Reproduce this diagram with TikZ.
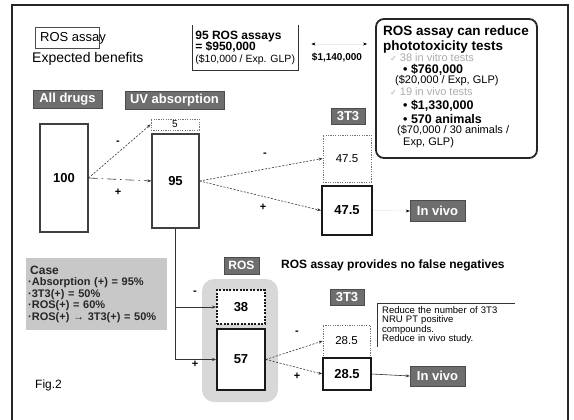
\documentclass[tikz,border=0pt]{standalone}
\usepackage{fontspec}
\setmainfont{Liberation Sans}
\newfontfamily\symfont{DejaVu Sans}
\usetikzlibrary{arrows.meta}
\definecolor{tagfill}{HTML}{6E6E6E}
\definecolor{casefill}{HTML}{C8C8C8}
\definecolor{rosback}{HTML}{D8D8D8}
\definecolor{faded}{HTML}{ABABAB}
\newcommand{\fsz}[1]{\fontsize{#1}{#1}\selectfont}
\tikzset{
  tagbox/.style={fill=tagfill,draw=black!70,text=white,font=\bfseries\fsz{13},inner sep=0pt},
  numbox/.style={draw=black!75,fill=white,line width=1.1pt,font=\bfseries\fsz{13},inner sep=0pt},
  posbox/.style={numbox,draw=black!90,line width=2pt},
  negbox/.style={draw=black!55,fill=white,line width=0.8pt,dash pattern=on 1.2pt off 1.2pt,font=\fsz{11.5},inner sep=0pt},
  flow/.style={draw=black!80,line width=0.6pt,-{Stealth[length=4pt,width=3pt]}},
  dashflow/.style={flow,dash pattern=on 2pt off 1.5pt},
  signlbl/.style={font=\bfseries\fsz{11}},
}
\begin{document}
\begin{tikzpicture}[x=1pt,y=-1pt]
\useasboundingbox (0,0) rectangle (574,420);
% frame
\draw[line width=1.6pt,black!85] (12,420) -- (12,5) -- (568,5) -- (568,420);
% title
\draw[black!70,line width=0.7pt] (35,27) rectangle (99,48);
\node[anchor=west,inner sep=0pt,font=\fsz{13}] (rostitle) at (40,38) {ROS assay};
\node[anchor=west,inner sep=0pt,font=\fsz{14}] (benefits) at (32,59) {Expected benefits};
% cost of ROS assays
\node[anchor=north west,minimum width=106pt,minimum height=45pt,inner xsep=3pt,inner ysep=0pt,align=left] (costbox) at (192,25)
  {{\bfseries\fsz{12}95 ROS assays}\\[-0.5pt]{\bfseries\fsz{12}= \$950,000}\\[-0.5pt]{\fsz{10.5}(\$10,000 / Exp. GLP)}};
\draw[black!80,line width=0.7pt] (costbox.north west) -- (costbox.south west) -- (costbox.south east) -- (costbox.north east);
% reduction box
\node[draw=black!85,line width=1.8pt,rounded corners=8pt,minimum width=161pt,minimum height=139pt] (reducebox) at (456.5,88.5) {};
\draw[black!8,line width=0.5pt,{Stealth[black,length=4pt,width=3pt]}-{Stealth[black,length=4pt,width=3pt]},shorten <=13pt,shorten >=8pt]
  (costbox.east |- 0,44) -- (reducebox.west |- 0,44);
\node[font=\bfseries\fsz{10}] (diff) at (337,58) {\$1,140,000};
\begin{scope}[every node/.style={anchor=west,inner sep=0pt}]
\node[font=\bfseries\fsz{13.5}] (red1) at (383,32) {ROS assay can reduce};
\node[font=\bfseries\fsz{13.5}] (red2) at (383,47) {phototoxicity tests};
\node[font=\fsz{11},text=faded] (vitro) at (390,58) {{\symfont\fsz{8}✓} 38 in vitro tests};
\node[font=\bfseries\fsz{12.5}] (vitrocost) at (403,70) {• \$760,000};
\node[font=\fsz{11}] (vitroexp) at (395,81) {(\$20,000 / Exp, GLP)};
\node[font=\fsz{11},text=faded] (vivo) at (390,92) {{\symfont\fsz{8}✓} 19 in vivo tests};
\node[font=\bfseries\fsz{12.5}] (vivocost) at (403,106) {• \$1,330,000};
\node[font=\bfseries\fsz{12.5}] (vivoanim) at (403,119) {• 570 animals};
\node[font=\fsz{11}] (vivoexp) at (397,131) {(\$70,000 / 30 animals /};
\node[font=\fsz{11}] (vivoexp2) at (403,143) {Exp, GLP)};
\end{scope}
% first stage
\node[tagbox,minimum width=69pt,minimum height=18pt] (alldrugs) at (67.5,99) {All drugs};
\node[tagbox,minimum width=99pt,minimum height=18pt] (uvabs) at (174.5,100) {UV absorption};
\node[numbox,minimum width=48pt,minimum height=108pt] (b100) at (64,178) {100};
\node[negbox,minimum width=48pt,minimum height=11pt,font=\fsz{10}] (b5) at (175,124.5) {5};
\node[numbox,minimum width=47pt,minimum height=94pt] (b95) at (175.5,181) {95};
\draw[dashflow] (b100.east) -- (b5.west);
\draw[flow,dash pattern=on 9pt off 4pt on 1.5pt off 4pt] (b100.east) -- (b95.west);
\node[signlbl] (m1) at (118,143) {-};
\node[signlbl] (p1) at (118,192) {+};
% 3T3 without ROS
\node[tagbox,minimum width=34pt,minimum height=16pt] (tttop) at (348,116) {3T3};
\node[negbox,minimum width=48pt,minimum height=47pt] (b475neg) at (347,158.5) {47.5};
\node[posbox,minimum width=50pt,minimum height=49pt] (b475pos) at (347,210.5) {47.5};
\node[tagbox,minimum width=55pt,minimum height=21pt] (vivotop) at (437.5,211) {In vivo};
\draw[dashflow] (b95.east) -- (b475neg.west);
\draw[dashflow] (b95.east) -- (b475pos.west);
\draw[black!10,line width=0.5pt,-{Stealth[black,length=4pt,width=3pt]}] (b475pos.east) -- (vivotop.west);
\node[signlbl] (m2) at (265,155) {-};
\node[signlbl] (p2) at (263,207) {+};
% case
\node[anchor=north west,fill=casefill,minimum width=141pt,minimum height=72pt,text width=137pt,inner xsep=2pt,inner ysep=0pt,align=left,
  font=\bfseries\fsz{11},text=black!85] (casebox) at (26,258)
  {{\fsz{12}\,Case}\\[0.5pt]·Absorption (+) = 95\%\\[0.5pt]·3T3(+) = 50\%\\[0.5pt]·ROS(+) = 60\%\\[0.5pt]·ROS(+) → 3T3(+) = 50\%};
% ROS stage
\fill[rosback,rounded corners=12pt] (202,279) rectangle (278,402);
\node[tagbox,minimum width=35pt,minimum height=17pt,font=\bfseries\fsz{12}] (rostag) at (241.5,265.5) {ROS};
\node[anchor=west,inner sep=0pt,font=\bfseries\fsz{12}] (nofalse) at (281,265) {ROS assay provides no false negatives};
\node[numbox,minimum width=48pt,minimum height=34pt,line width=2pt,dash pattern=on 2pt off 1.4pt,draw=black!90] (b38) at (241,307) {38};
\node[posbox,minimum width=48pt,minimum height=61pt,line width=1.8pt] (b57) at (241,359.5) {57};
\draw[flow] (b95.south) -- (b95.south |- b57.west) -- (b57.west);
\draw[flow] (b95.south |- b38.west) -- (b38.west);
\node[signlbl] (m3) at (195,293) {-};
\node[signlbl] (p3) at (195,364) {+};
% 3T3 after ROS
\node[tagbox,minimum width=34pt,minimum height=16pt] (ttbot) at (347,297.5) {3T3};
\node[negbox,minimum width=47pt,minimum height=32pt] (b285neg) at (346.5,341) {28.5};
\node[posbox,minimum width=48pt,minimum height=32pt,line width=1.5pt] (b285pos) at (347,374) {28.5};
\node[tagbox,minimum width=55pt,minimum height=20pt] (vivobot) at (437.5,376) {In vivo};
\draw[dashflow] (b57.east) -- (b285neg.west);
\draw[dashflow] (b57.east) -- (b285pos.west);
\draw[flow] (b285pos.east) -- (vivobot.west);
\node[signlbl] (m4) at (297,333) {-};
\node[signlbl] (p4) at (297,376) {+};
% note
\node[anchor=north west,minimum width=136pt,minimum height=42pt,text width=128pt,inner xsep=5pt,inner ysep=3pt,align=left,
  font=\fsz{9.5}] (note) at (377,303)
  {Reduce the number of 3T3\\NRU PT positive\\compounds.\\Reduce in vivo study.};
\draw[black!80,line width=0.6pt] (note.south west) -- (note.north west) -- (note.north east);
\node[anchor=west,inner sep=0pt,font=\fsz{12}] (figlbl) at (35,385) {Fig.2};
\end{tikzpicture}
\end{document}
